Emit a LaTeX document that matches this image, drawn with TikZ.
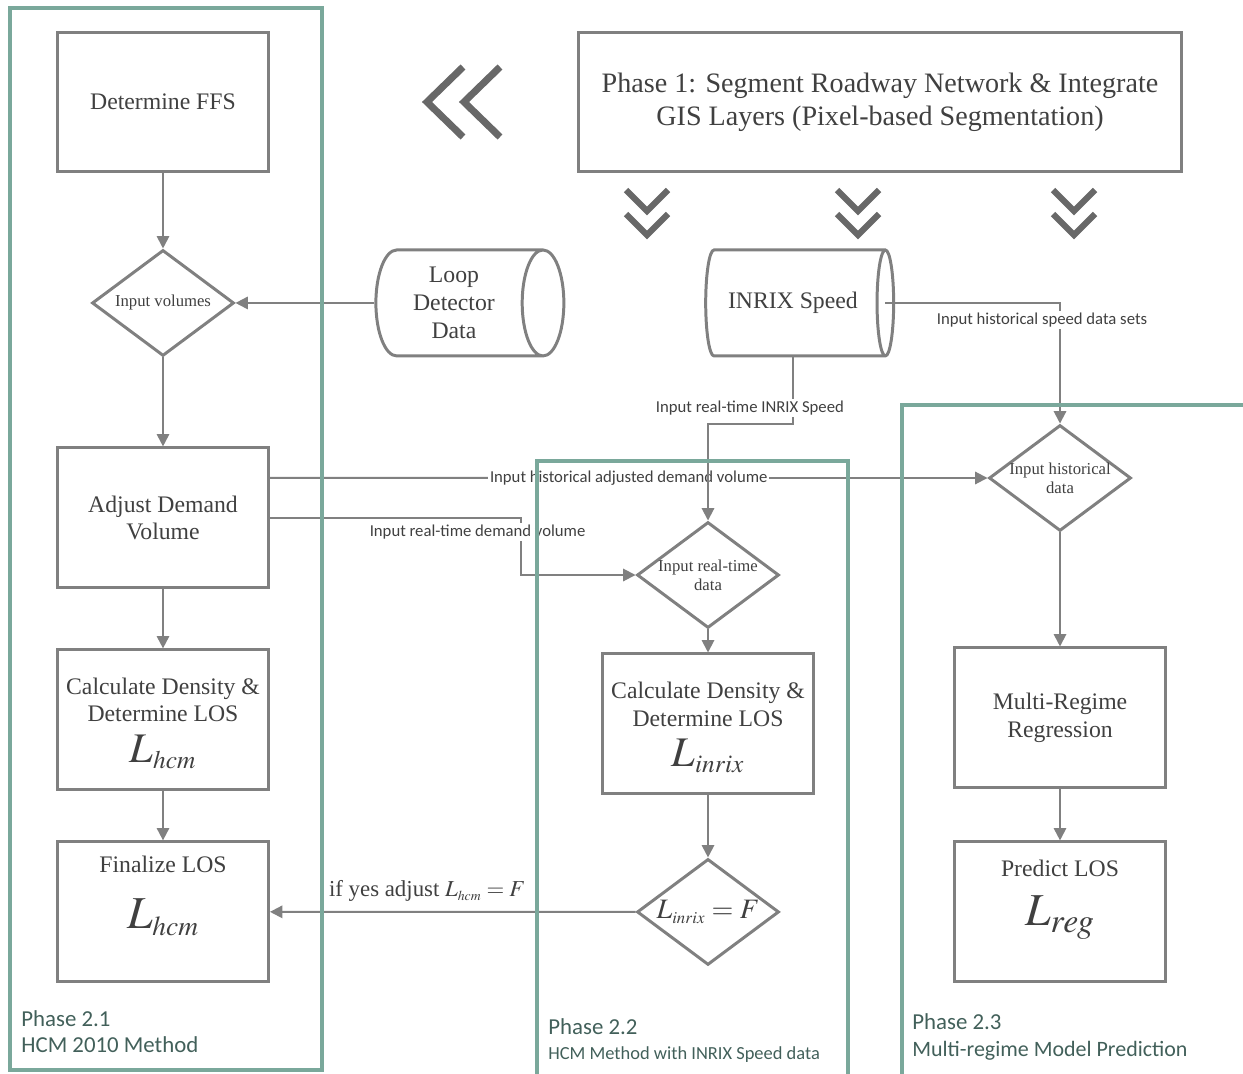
\documentclass[tikz,border=0pt]{standalone}
\usepackage{mathptmx}
\usepackage[no-math]{fontspec}
\setmainfont{Liberation Serif}
\newfontfamily\calibri{Carlito}
\usetikzlibrary{arrows.meta,shapes.geometric,positioning}

\definecolor{boxgray}{RGB}{128,128,128}
\definecolor{textgray}{RGB}{64,64,64}
\definecolor{chevgray}{RGB}{104,104,104}
\definecolor{phaseteal}{RGB}{122,168,155}
\definecolor{phasetext}{RGB}{66,96,90}

\begin{document}
\begin{tikzpicture}[x=0.02cm,y=-0.02cm,on grid,
    >={Triangle[length=7pt,width=7pt]}]
  \tikzstyle{every node}=[text=textgray]
  \tikzstyle{process}=[draw=boxgray,line width=1.7pt,minimum width=4.22cm,minimum height=2.8cm,
    align=center,font=\fontsize{13.5}{15.9}\selectfont]
  \tikzstyle{decision}=[draw=boxgray,line width=1.7pt,diamond,inner sep=0pt,
    minimum width=2.84cm,minimum height=2.12cm]
  \tikzstyle{dtext}=[align=center,font=\fontsize{9.5}{10.8}\selectfont,text=textgray]
  \tikzstyle{datastore}=[draw=boxgray,line width=1.7pt,cylinder,aspect=0.5,
    minimum width=2.12cm,minimum height=3.76cm,align=center,font=\fontsize{13.5}{15.9}\selectfont]
  \tikzstyle{flow}=[color=boxgray,line width=1.1pt]
  \tikzstyle{flowlabel}=[font=\calibri\fontsize{9.5}{11}\selectfont,fill=white,inner sep=1pt,text=textgray]
  \tikzstyle{chev}=[draw=chevgray,line width=3.6pt]
  \tikzstyle{phase}=[draw=phaseteal,line width=2.3pt]
  \tikzstyle{phasename}=[anchor=north west,align=left,text=phasetext,inner sep=0pt]

  \useasboundingbox (0,0) rectangle (1243,1074);

  % Phase 1
  \node[process,minimum width=12.08cm,minimum height=2.78cm,font=\fontsize{16}{18.7}\selectfont]
    (phase1) at (880,102) {Phase 1: Segment Roadway Network \& Integrate\\GIS Layers (Pixel-based Segmentation)};

  % HCM 2010 column
  \node[process] (ffs) at (163,102) {Determine FFS};
  \node[decision,label={[dtext]center:Input volumes}] (invol) [below=4.02cm of ffs] {};
  \node[process] (adjust) [below=4.3cm of invol] {Adjust Demand\\Volume};
  \node[process,text depth=0pt] (calchcm) [below=4.04cm of adjust]
    {Calculate Density \&\\Determine LOS\\[7pt]{\fontsize{24}{24}\selectfont$L_{\scriptscriptstyle hcm}$}};
  \node[process,text depth=22pt] (final) [below=3.84cm of calchcm]
    {Finalize LOS\\[14pt]{\fontsize{26}{26}\selectfont$L_{\scriptscriptstyle hcm}$}};

  % data sources
  \node[datastore] (loop) [right=5.82cm of invol] {Loop\\Detector\\Data};
  \node[datastore] (inrix) [right=6.78cm of loop] {INRIX Speed};

  % INRIX column
  \node[decision,label={[dtext]center:Input real-time\\data}] (inreal) at (708,575) {};
  \node[process,text depth=0pt] (calcinrix) [below=2.98cm of inreal]
    {Calculate Density \&\\Determine LOS\\[7pt]{\fontsize{24}{24}\selectfont$L_{\scriptscriptstyle inrix}$}};
  \node[decision,label={[dtext,font=\fontsize{16}{16}\selectfont]center:$L_{\scriptscriptstyle inrix}=F$}]
    (lcheck) [below=3.76cm of calcinrix] {};

  % multi-regime column
  \node[decision,label={[dtext]center:Input historical\\data}] (inhist) at (1060,478) {};
  \node[process] (multireg) [below=4.8cm of inhist] {Multi-Regime\\Regression};
  \node[process,text depth=22pt] (predict) [below=3.88cm of multireg]
    {Predict LOS\\[10pt]{\fontsize{26}{26}\selectfont$L_{reg}$}};

  % chevrons
  \draw[chev,line width=4pt] (463,67) -- (427,102) -- (463,137);
  \draw[chev,line width=4pt] (500,67) -- (464,102) -- (500,137);
  \foreach \cx in {647,858,1074} {
    \draw[chev] (\cx-21,190) -- (\cx,211) -- (\cx+21,190);
    \draw[chev] (\cx-21,214) -- (\cx,235) -- (\cx+21,214);
  }

  % connectors
  \path[flow,->]
    (ffs) edge (invol)
    (loop.west) edge (invol.east)
    (invol) edge (adjust)
    (adjust) edge (calchcm)
    (calchcm) edge (final)
    (inreal) edge (calcinrix)
    (calcinrix) edge (lcheck)
    (inhist) edge (multireg)
    (multireg) edge (predict);
  \draw[flow,->] ([yshift=0.8cm]adjust.east) --
    node[flowlabel] {Input historical adjusted demand volume} (inhist.west);
  \draw[flow,->] (adjust.east) -| ([xshift=-2.3cm]inreal.west)
    node[flowlabel,pos=0.62,xshift=-0.86cm] {Input real-time demand volume} -- (inreal.west);
  \draw[flow,->] (inrix.south) |- ([yshift=1.94cm]inreal.north)
    node[flowlabel,pos=0.38,xshift=-0.86cm] {Input real-time INRIX Speed} -- (inreal.north);
  \draw[flow,->] ([xshift=-0.2cm]inrix.east) -|
    node[flowlabel,pos=0.57,xshift=-0.36cm] {Input historical speed data sets} (inhist.north);
  \draw[flow,->] (lcheck.west) --
    node[pos=0.57,above=2pt,font=\fontsize{13}{15}\selectfont] {if yes adjust $L_{\scriptscriptstyle hcm}=F$} (final.east);

  % phase frames
  \draw[phase] (10,8) rectangle (322,1070);
  \draw[phase] (537,1090) |- (848,461) -- (848,1090);
  \draw[phase] (902,1090) |- (1260,405);
  \node[phasename,font=\calibri\fontsize{13}{14.7}\selectfont] (ph21) at (21,1010)
    {Phase 2.1\\HCM 2010 Method};
  \node[phasename,font=\calibri\fontsize{13}{14.2}\selectfont] (ph22) at (548,1018)
    {Phase 2.2\\{\fontsize{10.5}{12}\selectfont HCM Method with INRIX Speed data}};
  \node[phasename,font=\calibri\fontsize{13}{15.5}\selectfont] (ph23) at (912,1013)
    {Phase 2.3\\{\fontsize{12.5}{14}\selectfont Multi-regime Model Prediction}};
\end{tikzpicture}
\end{document}
